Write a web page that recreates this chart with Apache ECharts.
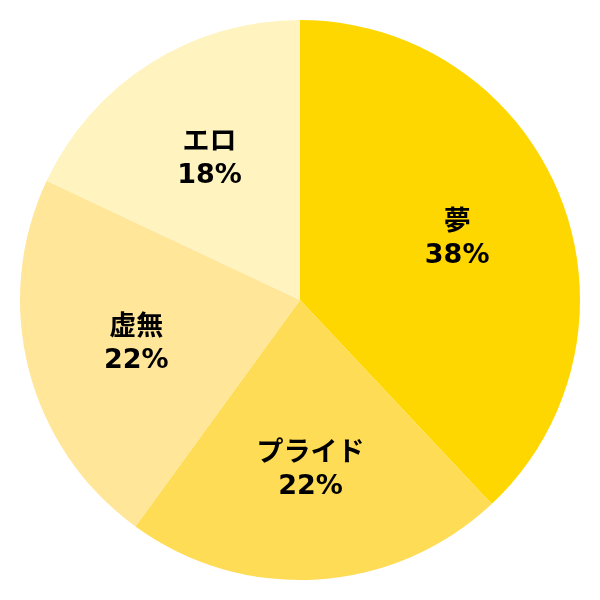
<!DOCTYPE html>
<html><head><meta charset="utf-8">
<script src="https://cdn.jsdelivr.net/npm/echarts@6/dist/echarts.min.js"></script>
<style>html,body{margin:0;padding:0;background:#fff}#c{width:600px;height:600px}</style>
</head><body><div id="c"></div>
<script>
const categories = ['夢', 'プライド', '虚無', 'エロ'];
const values = [38, 22, 22, 18];
const colors = ['#FFD700', '#FFDC55', '#FFE699', '#FFF3BF'];

const chart = echarts.init(document.getElementById('c'));
const data = categories.map((n, i) => ({ name: n, value: values[i], itemStyle: { color: colors[i] } }));
const labelData = categories.map((n, i) => ({ name: n, value: values[i] }));
chart.setOption({
  animation: false,
  series: [
    {
      type: 'pie', center: [300, 300], radius: [0, 280], startAngle: 90, clockwise: true,
      label: { show: false }, labelLine: { show: false }, silent: true,
      itemStyle: { borderWidth: 0 },
      data: data
    },
    {
      type: 'pie', center: [300, 300], radius: [0, 332], startAngle: 90, clockwise: true,
      silent: true, labelLine: { show: false },
      itemStyle: { color: 'rgba(0,0,0,0)', borderWidth: 0 },
      label: {
        show: true, position: 'inside', color: '#000', offset: [0, 2],
        fontFamily: 'DejaVu Sans, Noto Sans CJK JP, sans-serif', fontWeight: 'bold', fontSize: 27,
        lineHeight: 33,
        formatter: p => p.name + '\n' + p.value + '%'
      },
      data: labelData
    }
  ]
});
</script></body></html>
